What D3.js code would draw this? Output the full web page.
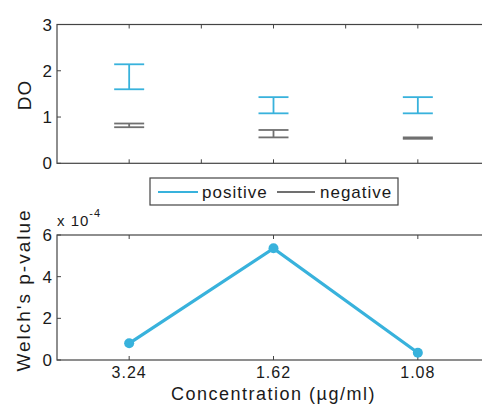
<!DOCTYPE html>
<html>
<head>
<meta charset="utf-8">
<script src="https://cdn.jsdelivr.net/npm/d3@7"></script>
<style>
  body { margin: 0; background: #fff; }
  text { font-family: "Liberation Sans", Arial, sans-serif; fill: #1a1a1a; }
</style>
</head>
<body>
<svg id="chart" width="482" height="408"></svg>
<script>
// data
const concentrations = ["3.24", "1.62", "1.08"];
const positiveLow = [1.60, 1.08, 1.08];
const positiveHigh = [2.14, 1.43, 1.43];
const negativeLow = [0.78, 0.56, 0.53];
const negativeHigh = [0.86, 0.72, 0.56];
const pValues = [0.8, 5.36, 0.35]; // x 10^-4
const doTicks = [0, 1, 2, 3];
const pTicks = [0, 2, 4, 6];

const svg = d3.select("#chart");
const blue = "#38b2dc";
const gray = "#707070";
const axisColor = "#444";

const left = 57, right = 490;
const x = d3.scaleLinear().domain([0.5, 3.5]).range([left, right]);
const topY = d3.scaleLinear().domain([0, 3]).range([163.3, 24.5]);
const botY = d3.scaleLinear().domain([0, 6]).range([360, 235]);

function label(g, px, py, txt, size, spacing) {
  return g.append("text").attr("x", px).attr("y", py)
    .attr("font-size", size).attr("letter-spacing", spacing).text(txt);
}

function drawFrame(y, yTicks, xTicks, labels) {
  const g = svg.append("g");
  const [y0, y1] = y.range();
  g.append("rect")
    .attr("x", left).attr("y", y1)
    .attr("width", right - left).attr("height", y0 - y1)
    .attr("fill", "none").attr("stroke", axisColor).attr("stroke-width", 1.2);
  xTicks.forEach(function (t) {
    g.append("line").attr("x1", x(t)).attr("x2", x(t))
      .attr("y1", y0).attr("y2", y0 - 4).attr("stroke", axisColor);
    g.append("line").attr("x1", x(t)).attr("x2", x(t))
      .attr("y1", y1).attr("y2", y1 + 4).attr("stroke", axisColor);
  });
  yTicks.forEach(function (t) {
    g.append("line").attr("x1", left).attr("x2", left + 4)
      .attr("y1", y(t)).attr("y2", y(t)).attr("stroke", axisColor);
    label(g, left - 5, y(t) + 6, t, 17, 0).attr("text-anchor", "end");
  });
  if (labels) {
    labels.forEach(function (l, i) {
      label(g, x(i + 1), y0 + 18, l, 16, 1).attr("text-anchor", "middle");
    });
  }
}

// top: DO error bars
drawFrame(topY, doTicks, [1, 1.5, 2, 2.5, 3], null);

function errBar(i, lo, hi, color) {
  const cx = x(i + 1), hw = 15;
  const g = svg.append("g").attr("stroke", color).attr("stroke-width", 1.8);
  g.append("line").attr("x1", cx).attr("x2", cx).attr("y1", topY(lo)).attr("y2", topY(hi));
  g.append("line").attr("x1", cx - hw).attr("x2", cx + hw).attr("y1", topY(lo)).attr("y2", topY(lo));
  g.append("line").attr("x1", cx - hw).attr("x2", cx + hw).attr("y1", topY(hi)).attr("y2", topY(hi));
}
concentrations.forEach(function (c, i) {
  errBar(i, positiveLow[i], positiveHigh[i], blue);
  errBar(i, negativeLow[i], negativeHigh[i], gray);
});

svg.append("text")
  .attr("transform", "translate(31,95) rotate(-90)")
  .attr("text-anchor", "middle").attr("font-size", 19).attr("letter-spacing", 1)
  .text("DO");

// legend
const leg = svg.append("g");
leg.append("rect").attr("x", 150).attr("y", 178).attr("width", 248).attr("height", 27)
  .attr("fill", "#fff").attr("stroke", axisColor).attr("stroke-width", 1.2);
leg.append("line").attr("x1", 158).attr("x2", 198).attr("y1", 192).attr("y2", 192)
  .attr("stroke", blue).attr("stroke-width", 1.8);
label(leg, 202, 198, "positive", 17, 1);
leg.append("line").attr("x1", 277).attr("x2", 315).attr("y1", 192).attr("y2", 192)
  .attr("stroke", gray).attr("stroke-width", 1.8);
label(leg, 320, 198, "negative", 17, 1);

// bottom: Welch's p-value
drawFrame(botY, pTicks, [1, 2, 3], concentrations);

const line = d3.line().x(function (d, i) { return x(i + 1); }).y(function (d) { return botY(d); });
svg.append("path").datum(pValues).attr("d", line)
  .attr("fill", "none").attr("stroke", blue).attr("stroke-width", 3.2);
svg.selectAll(".pt").data(pValues).join("circle")
  .attr("cx", function (d, i) { return x(i + 1); })
  .attr("cy", function (d) { return botY(d); })
  .attr("r", 5).attr("fill", blue);

const mult = label(svg, 57, 226, "", 15, 1);
mult.append("tspan").text("x 10");
mult.append("tspan").attr("dy", -9).attr("font-size", 11).text("-4");

svg.append("text")
  .attr("transform", "translate(30,290) rotate(-90)")
  .attr("text-anchor", "middle").attr("font-size", 19).attr("letter-spacing", 2)
  .text("Welch's p-value");

label(svg, x(2), 400, "Concentration (µg/ml)", 18, 1.5).attr("text-anchor", "middle");
</script>
</body>
</html>
